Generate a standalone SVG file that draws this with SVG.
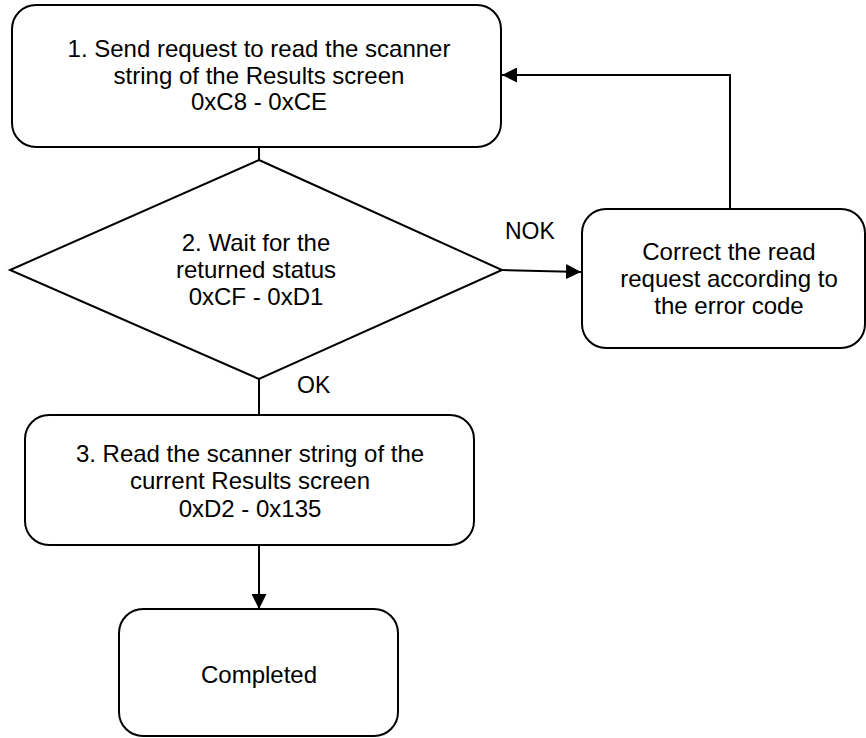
<svg xmlns="http://www.w3.org/2000/svg" width="866" height="738" viewBox="0 0 866 738">
<style>
.shape{fill:#fff;stroke:#000;stroke-width:2}
.conn{fill:none;stroke:#000;stroke-width:2}
text{font-family:"Liberation Sans",Arial,sans-serif;font-size:24px;fill:#000}
.c{text-anchor:middle}
</style>
<defs>
<marker id="arr" viewBox="0 0 15 15" refX="15" refY="7.5" markerWidth="15" markerHeight="15" markerUnits="userSpaceOnUse" orient="auto">
<path d="M0,0 L15,7.5 L0,15 Z" fill="#000"/>
</marker>
</defs>
<rect width="866" height="738" fill="#fff"/>
<g id="connectors">
<line class="conn" x1="259" y1="147" x2="259" y2="160"/>
<path class="conn" d="M502,270 L581,272" marker-end="url(#arr)"/>
<path class="conn" d="M730,209 L730,75 L502,75" marker-end="url(#arr)"/>
<line class="conn" x1="259" y1="379" x2="259" y2="415"/>
<path class="conn" d="M259,545 L259,609" marker-end="url(#arr)"/>
<text x="505" y="239" style="font-size:23px">NOK</text>
<text x="297" y="393" style="font-size:23px">OK</text>
</g>
<g id="step1">
<rect class="shape" x="12" y="5" width="489" height="142" rx="24" ry="24"/>
<text class="c" x="259" y="57">1. Send request to read the scanner</text>
<text class="c" x="259" y="84">string of the Results screen</text>
<text class="c" x="259" y="110">0xC8 - 0xCE</text>
</g>
<g id="step2">
<polygon class="shape" points="259,160 502,270 259,379 10,270"/>
<text class="c" x="256" y="251">2. Wait for the</text>
<text class="c" x="256" y="278">returned status</text>
<text class="c" x="256" y="305">0xCF - 0xD1</text>
</g>
<g id="correct">
<rect class="shape" x="582" y="209" width="283" height="139" rx="24" ry="24"/>
<text class="c" x="729" y="260">Correct the read</text>
<text class="c" x="729" y="287">request according to</text>
<text class="c" x="729" y="314">the error code</text>
</g>
<g id="step3">
<rect class="shape" x="25" y="415" width="449" height="130" rx="24" ry="24"/>
<text class="c" x="250" y="462">3. Read the scanner string of the</text>
<text class="c" x="250" y="489">current Results screen</text>
<text class="c" x="250" y="517">0xD2 - 0x135</text>
</g>
<g id="completed">
<rect class="shape" x="119" y="609" width="279" height="127" rx="24" ry="24"/>
<text class="c" x="259" y="683">Completed</text>
</g>
</svg>
